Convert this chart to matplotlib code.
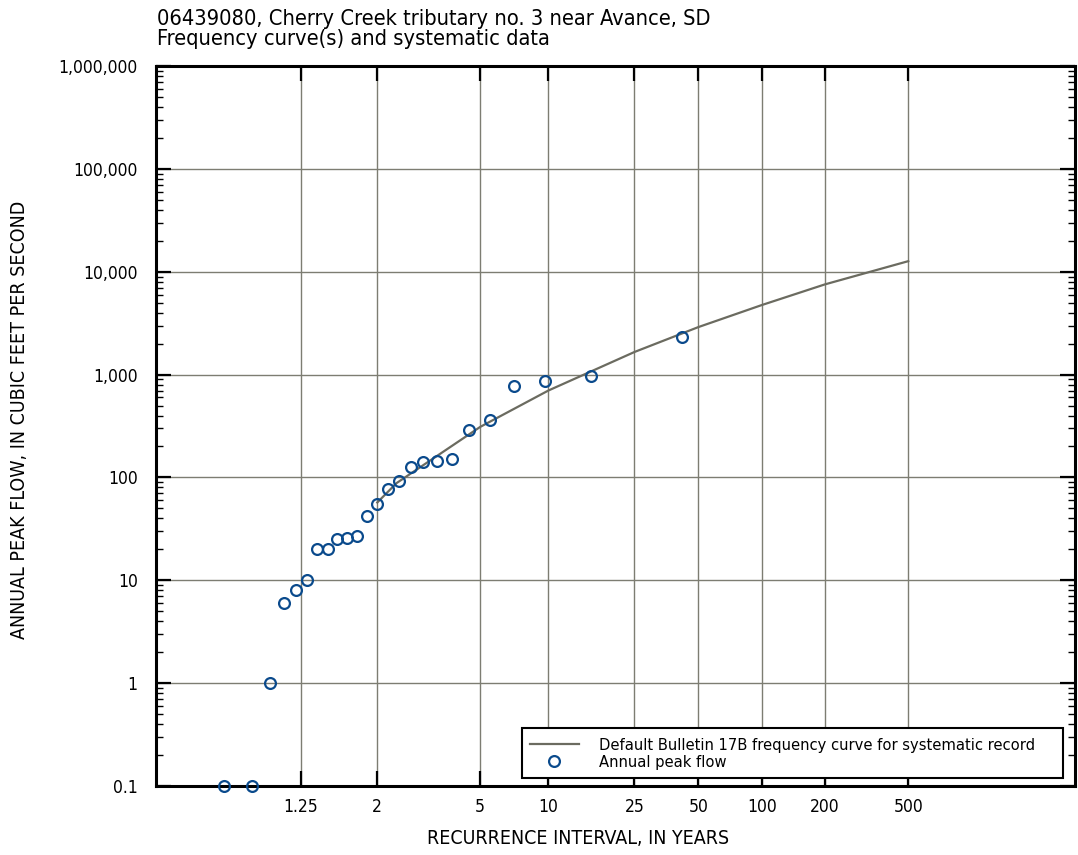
import numpy as np
import matplotlib
matplotlib.use("Agg")
import matplotlib.pyplot as plt
from matplotlib.patches import Rectangle
from matplotlib.ticker import FixedLocator, FixedFormatter, NullLocator, LogLocator, NullFormatter

plt.rcParams['font.family'] = ['DejaVu Sans']
plt.rcParams['font.stretch'] = 'condensed'

# ---- data ----
# annual peak flows with recurrence interval (plotting position), years
peak_ri = [42.0, 15.75, 9.69, 7.0, 5.48, 4.5, 3.82, 3.32, 2.93, 2.625, 2.377, 2.172,
           2.0, 1.853, 1.726, 1.615, 1.518, 1.432, 1.355, 1.286, 1.223, 1.167, 1.116,
           1.068, 1.024]
peak_flow = [2300, 980, 860, 780, 360, 290, 150, 145, 140, 125, 92, 77,
             55, 42, 27, 26, 25, 20, 20, 10, 8, 6, 1, 0.1, 0.1]

# Bulletin 17B frequency curve
curve_ri = [2, 2.33, 5, 10, 25, 50, 100, 200, 500]
curve_flow = [57, 88, 310, 700, 1660, 2900, 4750, 7550, 12700]

x_ticks = [1.25, 2, 5, 10, 25, 50, 100, 200, 500]
x_tick_labels = ['1.25', '2', '5', '10', '25', '50', '100', '200', '500']
y_ticks = [0.1, 1, 10, 100, 1000, 10000, 100000, 1000000]
y_tick_labels = ['0.1', '1', '10', '100', '1,000', '10,000', '100,000', '1,000,000']

title = "06439080, Cherry Creek tributary no. 3 near Avance, SD\nFrequency curve(s) and systematic data"


def fwd(t):
    t = np.asarray(t, dtype=float)
    with np.errstate(all='ignore'):
        p = 1.0 - 1.0 / np.where(t > 1.0, t, np.nan)
        return -np.log(-np.log(p))


def inv(y):
    y = np.asarray(y, dtype=float)
    with np.errstate(all='ignore'):
        return 1.0 / (1.0 - np.exp(-np.exp(-y)))


W, H = 1078, 855
AX_L, AX_R, AX_T, AX_B = 155.7, 1075.0, 66.3, 785.7
fig = plt.figure(figsize=(W / 100, H / 100), dpi=100)
ax = fig.add_axes([AX_L / W, 1 - AX_B / H, (AX_R - AX_L) / W, (AX_B - AX_T) / H])


def axfrac(px, py):
    return (px - AX_L) / (AX_R - AX_L), (AX_B - py) / (AX_B - AX_T)


ax.set_xscale('function', functions=(fwd, inv))
ax.set_yscale('log')
ax.set_xlim(float(inv(-2.074)), float(inv(8.05)))
ax.set_ylim(0.1, 1e6)

grid_c = '#7d7d72'
ax.xaxis.set_major_locator(FixedLocator(x_ticks))
ax.xaxis.set_major_formatter(FixedFormatter(x_tick_labels))
ax.xaxis.set_minor_locator(NullLocator())
ax.yaxis.set_major_locator(FixedLocator(y_ticks))
ax.yaxis.set_major_formatter(FixedFormatter(y_tick_labels))
ax.yaxis.set_minor_locator(LogLocator(base=10, subs=np.arange(2, 10)))
ax.yaxis.set_minor_formatter(NullFormatter())

ax.grid(True, which='major', color=grid_c, lw=1.0, zorder=0)
ax.set_axisbelow(True)

ax.tick_params(axis='both', which='major', direction='in', length=10.5, width=1.6,
               color='black', labelsize=12.5, top=True, right=True)
ax.tick_params(axis='y', which='minor', direction='in', length=5, width=1.0,
               color='black', left=True, right=True)
ax.tick_params(axis='x', which='major', pad=9)
ax.tick_params(axis='y', which='major', pad=13)

for s in ax.spines.values():
    s.set_linewidth(2.2)
    s.set_color('black')

ax.plot(curve_ri, curve_flow, color='#6b6b60', lw=1.6, zorder=3,
        label='Default Bulletin 17B frequency curve for systematic record')
ax.plot(peak_ri, peak_flow, ls='none', marker='o', ms=7.8, mfc='none',
        mec='#0a4a8c', mew=1.6, zorder=4, clip_on=False, label='Annual peak flow')

# legend box
x0, y0 = axfrac(522, 778)
x1, y1 = axfrac(1063, 728)
ax.add_patch(Rectangle((x0, y0), x1 - x0, y1 - y0, transform=ax.transAxes,
                       facecolor='white', edgecolor='black', lw=1.5, zorder=5))
lx, ly = axfrac(522, 730)
leg = ax.legend(loc='upper left', bbox_to_anchor=(lx, ly), fontsize=11.8, frameon=False,
                borderpad=0, handlelength=2.95, handletextpad=1.22, labelspacing=0.1,
                borderaxespad=0.5)
leg.set_zorder(6)

fig.text(157 / W, 1 - 9 / H, title, ha='left', va='top', fontsize=15.7, linespacing=1.02)
fig.text(578 / W, 1 - 838 / H, 'RECURRENCE INTERVAL, IN YEARS', ha='center', va='center', fontsize=14)
fig.text(20 / W, 1 - 420 / H, 'ANNUAL PEAK FLOW, IN CUBIC FEET PER SECOND', ha='center',
         va='center', rotation=90, fontsize=14)

fig.savefig('out.png', dpi=100)
